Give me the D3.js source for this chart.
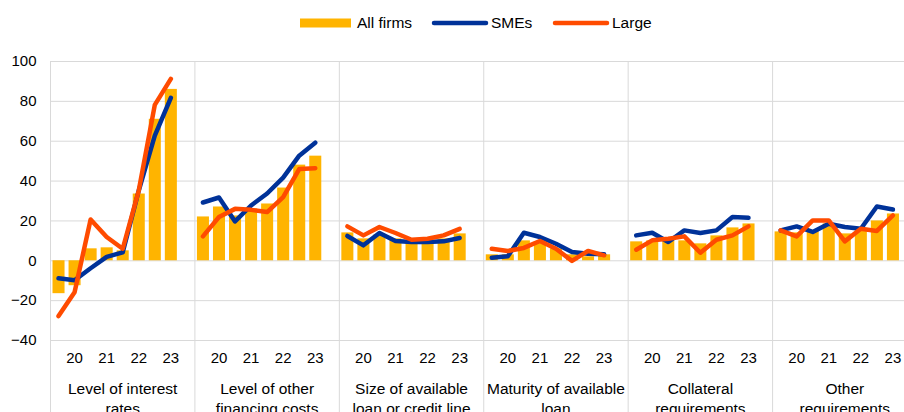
<!DOCTYPE html>
<html>
<head>
<meta charset="utf-8">
<script src="https://cdn.jsdelivr.net/npm/d3@7"></script>
<style>
  body { margin: 0; background: #fff; }
  svg { display: block; font-family: "Liberation Sans", Arial, sans-serif; }
</style>
</head>
<body>
<div id="chart"></div>
<script>
// factor groups, each shown over 8 survey rounds
const groups = [
  ["Level of interest", "rates"],
  ["Level of other", "financing costs"],
  ["Size of available", "loan or credit line"],
  ["Maturity of available", "loan"],
  ["Collateral", "requirements"],
  ["Other", "requirements"]
];
const periods = ["", "20", "", "21", "", "22", "", "23"];
const yTicks = [-40, -20, 0, 20, 40, 60, 80, 100];

const allFirms = [
  [-16.5, -12.5, 6, 6.5, 5, 33.5, 71, 86],
  [22, 27, 22.5, 26, 28.5, 36.5, 48, 52.5],
  [14, 11, 13, 11, 10, 10, 11, 13.5],
  [3, 3, 10, 9.5, 6, 3, 2, 3],
  [9.5, 10, 10, 10, 8.5, 12.5, 16.5, 18.5],
  [14.5, 14, 15, 18.5, 13.5, 15, 20, 23.5]
];
const smes = [
  [-9, -10, -4, 1.7, 4, 35, 62.5, 81.5],
  [29, 31.5, 19.5, 27.5, 33.5, 41.5, 52.5, 59],
  [12.2, 7.5, 13.7, 9.7, 9.2, 9.2, 9.5, 11.2],
  [1.3, 2, 13.8, 11.7, 8.3, 4.2, 3.3, 3],
  [12.5, 13.8, 9.2, 15, 13.7, 15, 21.7, 21.3],
  [15, 17, 14.2, 18.3, 16.7, 15.8, 27, 25.5]
];
const large = [
  [-28, -16, 20.5, 11.7, 5.8, 35, 78, 91],
  [12, 21.7, 25.8, 25.3, 24.2, 31.7, 45.8, 46.2],
  [17, 12.5, 16.7, 13.7, 10.3, 10.8, 12.5, 15.8],
  [5.8, 4.7, 6.2, 9.7, 5.8, -0.3, 4.7, 2.5],
  [5.3, 10, 10.8, 12, 3.8, 10.3, 12.5, 17],
  [15, 12, 20, 20, 9.5, 15.8, 14.7, 22.5]
];

const colors = { all: "#FFB400", smes: "#003299", large: "#FF4B00" };
const width = 904, height = 412;
const plotLeft = 50.5, plotRight = 917, plotTop = 61, plotBottom = 340;

const svg = d3.select("#chart").append("svg")
  .attr("width", width)
  .attr("height", height);

const x0 = d3.scaleBand()
  .domain(d3.range(groups.length))
  .range([plotLeft, plotRight]);

// one blank slot after the 8 rounds in each group
const x1 = d3.scaleBand()
  .domain(d3.range(periods.length + 1))
  .range([0, x0.bandwidth()])
  .paddingInner(0.25)
  .paddingOuter(0.125);

const y = d3.scaleLinear()
  .domain([-40, 100])
  .range([plotBottom, plotTop]);

// horizontal gridlines
svg.append("g")
  .attr("transform", "translate(" + plotLeft + ",0)")
  .call(d3.axisLeft(y).tickValues(yTicks).tickSize(-(width - plotLeft)).tickFormat(""))
  .call(g => g.select(".domain").remove())
  .call(g => g.selectAll("line").attr("stroke", "#d9d9d9"));

// y labels
svg.append("g")
  .attr("transform", "translate(" + plotLeft + ",0)")
  .call(d3.axisLeft(y).tickValues(yTicks).tickSize(0).tickPadding(14))
  .call(g => g.select(".domain").remove())
  .call(g => g.selectAll("text")
    .attr("font-size", 15)
    .attr("font-family", "Liberation Sans, Arial, sans-serif")
    .attr("fill", "#000"));

// group separators
svg.append("g").selectAll("line")
  .data(d3.range(groups.length + 1))
  .join("line")
  .attr("x1", d => plotLeft + d * x0.bandwidth())
  .attr("x2", d => plotLeft + d * x0.bandwidth())
  .attr("y1", plotTop)
  .attr("y2", height)
  .attr("stroke", "#d9d9d9");

const cx = (g, i) => x0(g) + x1(i) + x1.bandwidth() / 2;

groups.forEach((label, g) => {
  const gg = svg.append("g");

  gg.selectAll("rect")
    .data(allFirms[g])
    .join("rect")
    .attr("x", (d, i) => x0(g) + x1(i))
    .attr("width", x1.bandwidth())
    .attr("y", d => y(Math.max(0, d)))
    .attr("height", d => Math.abs(y(d) - y(0)))
    .attr("fill", colors.all);

  // year labels under every second round
  gg.append("g")
    .attr("transform", "translate(" + x0(g) + ",352)")
    .call(d3.axisBottom(x1).tickSize(0).tickPadding(0)
      .tickFormat(i => periods[i] || ""))
    .call(a => a.select(".domain").remove())
    .call(a => a.selectAll("text")
      .attr("font-size", 15)
      .attr("font-family", "Liberation Sans, Arial, sans-serif")
      .attr("fill", "#000"));

  const t = gg.append("text")
    .attr("text-anchor", "middle")
    .attr("font-size", 15.5)
    .attr("fill", "#000");
  label.forEach((line, k) => {
    t.append("tspan")
      .attr("x", x0(g) + x0.bandwidth() / 2)
      .attr("y", 394 + k * 20)
      .text(line);
  });
});

const line = d3.line()
  .x(d => d.x)
  .y(d => d.y);

[[smes, colors.smes], [large, colors.large]].forEach(([series, color]) => {
  series.forEach((vals, g) => {
    svg.append("path")
      .datum(vals.map((v, i) => ({ x: cx(g, i), y: y(v) })))
      .attr("d", line)
      .attr("fill", "none")
      .attr("stroke", color)
      .attr("stroke-width", 4.5)
      .attr("stroke-linejoin", "round")
      .attr("stroke-linecap", "round");
  });
});

// legend
const legend = svg.append("g").attr("font-size", 15.5);
legend.append("rect")
  .attr("x", 300).attr("y", 18.5)
  .attr("width", 51).attr("height", 9)
  .attr("fill", colors.all);
legend.append("text").attr("x", 357).attr("y", 28).text("All firms");
legend.append("line")
  .attr("x1", 434).attr("x2", 486).attr("y1", 23).attr("y2", 23)
  .attr("stroke", colors.smes).attr("stroke-width", 4.5).attr("stroke-linecap", "round");
legend.append("text").attr("x", 491).attr("y", 28).text("SMEs");
legend.append("line")
  .attr("x1", 555).attr("x2", 607).attr("y1", 23).attr("y2", 23)
  .attr("stroke", colors.large).attr("stroke-width", 4.5).attr("stroke-linecap", "round");
legend.append("text").attr("x", 612).attr("y", 28).text("Large");
</script>
</body>
</html>
